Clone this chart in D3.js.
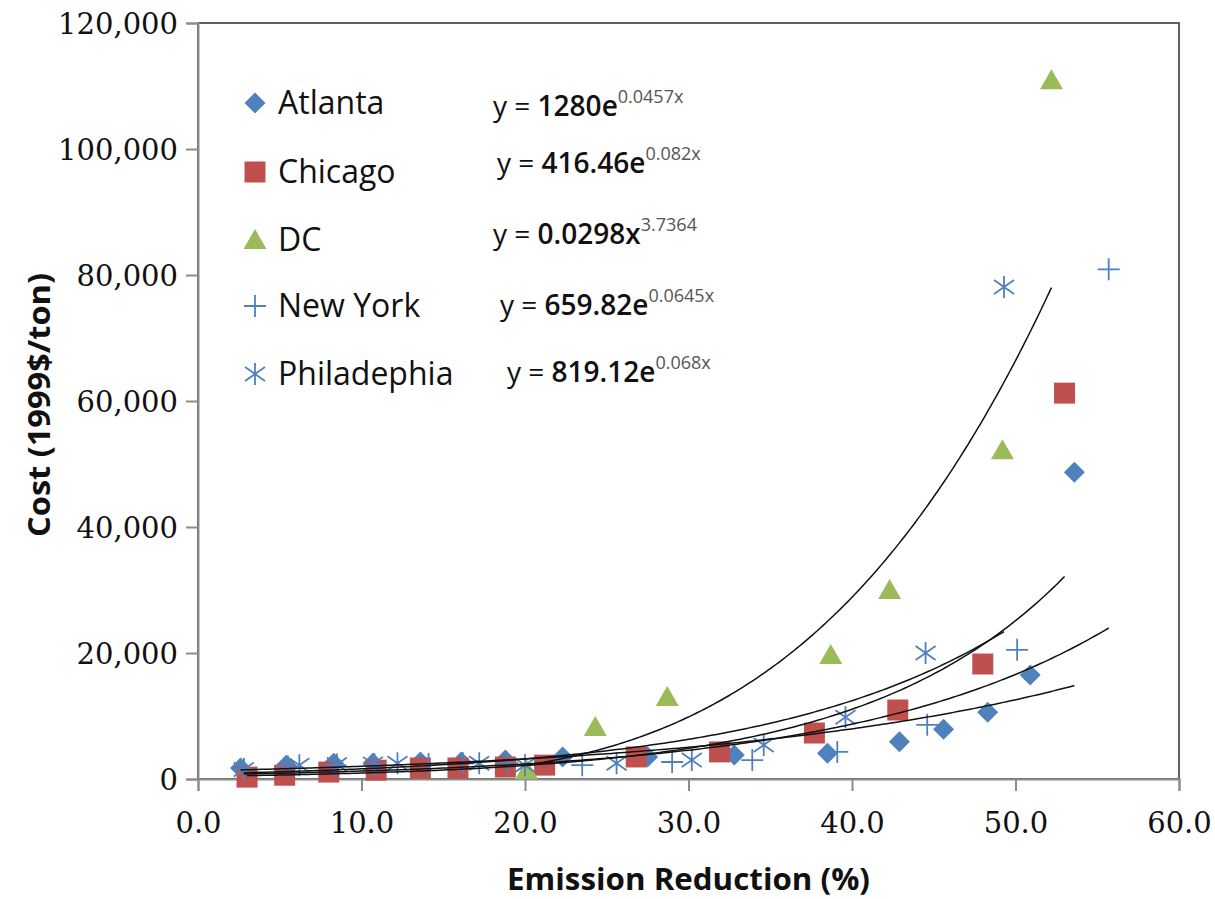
<!DOCTYPE html>
<html>
<head>
<meta charset="utf-8">
<script src="https://cdn.jsdelivr.net/npm/d3@7"></script>
<style>
  body { margin: 0; background: #fff; }
  svg { display: block; }
</style>
</head>
<body>
<div id="chart"></div>
<script>
// Data
const cities = ['Atlanta', 'Chicago', 'DC', 'New York', 'Philadephia'];

const atlantaX = [2.6, 5.4, 8.3, 10.7, 13.6, 16.1, 18.8, 22.3, 27.5, 32.8, 38.5, 42.9, 45.6, 48.3, 50.9, 53.6];
const atlantaY = [1750, 2200, 2500, 2500, 2700, 2700, 3000, 3500, 3500, 3800, 4100, 5900, 7900, 10600, 16500, 48700];

const chicagoX = [3.0, 5.3, 8.0, 10.9, 13.6, 15.9, 18.8, 21.2, 26.8, 31.9, 37.7, 42.8, 48.0, 53.0];
const chicagoY = [300, 600, 1100, 1400, 1750, 1750, 1900, 2200, 3500, 4300, 7300, 10950, 18250, 61250];

const dcX = [20.1, 24.3, 28.7, 38.7, 42.3, 49.2, 52.2];
const dcY = [1400, 8250, 13000, 19700, 30000, 52200, 110900];

const newYorkX = [2.8, 5.5, 8.4, 10.8, 14.1, 16.2, 18.9, 23.5, 29.0, 33.9, 39.1, 44.6, 50.1, 55.7];
const newYorkY = [1600, 2000, 2200, 2300, 2400, 2500, 2600, 2200, 2700, 3000, 4300, 8600, 20500, 80900];

const philX = [2.8, 6.2, 8.5, 10.7, 12.2, 17.2, 20.0, 25.6, 30.2, 34.6, 39.6, 44.5, 49.3];
const philY = [1500, 2200, 2300, 2400, 2500, 2500, 2200, 2500, 3000, 5400, 9800, 20000, 78100];

// Trendline equations shown on the chart
const fitType = ['exp', 'exp', 'power', 'exp', 'exp'];
const fitA = [1280, 416.46, 0.0298, 659.82, 819.12];
const fitB = [0.0457, 0.082, 3.7364, 0.0645, 0.068];
const fitCoef = ['1280', '416.46', '0.0298', '659.82', '819.12'];
const fitExp = ['0.0457x', '0.082x', '3.7364', '0.0645x', '0.068x'];

const xTicks = [0, 10, 20, 30, 40, 50, 60];
const yTicks = [0, 20000, 40000, 60000, 80000, 100000, 120000];

const series = [
  { name: cities[0], xs: atlantaX, ys: atlantaY, shape: 'diamond', color: '#4F81BD' },
  { name: cities[1], xs: chicagoX, ys: chicagoY, shape: 'square', color: '#C0504D' },
  { name: cities[2], xs: dcX, ys: dcY, shape: 'triangle', color: '#9BBB59' },
  { name: cities[3], xs: newYorkX, ys: newYorkY, shape: 'plus', color: '#4F81BD' },
  { name: cities[4], xs: philX, ys: philY, shape: 'star', color: '#4F81BD' }
];

const width = 1215;
const height = 899;
const margin = { t: 23, r: 36, b: 120, l: 198 };
const W = width - margin.l - margin.r;
const H = height - margin.t - margin.b;

const scaleX = d3.scaleLinear().domain([0, 60]).range([0, W]);
const scaleY = d3.scaleLinear().domain([0, 120000]).range([H, 0]);

// Marker paths, centred on 0,0
function markerPath(shape) {
  const p = d3.path();
  if (shape === 'diamond') {
    p.moveTo(0, -10.5); p.lineTo(10.5, 0); p.lineTo(0, 10.5); p.lineTo(-10.5, 0); p.closePath();
  } else if (shape === 'square') {
    p.rect(-10.5, -10.5, 21, 21);
  } else if (shape === 'triangle') {
    p.moveTo(0, -11); p.lineTo(11.5, 9); p.lineTo(-11.5, 9); p.closePath();
  } else if (shape === 'plus') {
    p.moveTo(-11, 0); p.lineTo(11, 0); p.moveTo(0, -11); p.lineTo(0, 11);
  } else {
    p.moveTo(0, -11); p.lineTo(0, 11);
    p.moveTo(-10, -7); p.lineTo(10, 7);
    p.moveTo(-10, 7); p.lineTo(10, -7);
  }
  return p.toString();
}

function drawMarker(sel, s) {
  const filled = s.shape === 'diamond' || s.shape === 'square' || s.shape === 'triangle';
  sel.attr('d', markerPath(s.shape))
    .attr('fill', filled ? s.color : 'none')
    .attr('stroke', filled ? 'none' : s.color)
    .attr('stroke-width', filled ? 0 : 1.8);
}

function fit(i, x) {
  return fitType[i] === 'exp' ? fitA[i] * Math.exp(fitB[i] * x) : fitA[i] * Math.pow(x, fitB[i]);
}

const svg = d3.select('#chart')
  .append('svg')
  .attr('width', width)
  .attr('height', height);

const g = svg.append('g').attr('transform', `translate(${margin.l}, ${margin.t})`);

// Plot frame
g.append('rect')
  .attr('width', W)
  .attr('height', H)
  .attr('fill', 'none')
  .attr('stroke', '#3a3a3a')
  .attr('stroke-width', 1.6);

// Axes
const xAxis = d3.axisBottom(scaleX)
  .tickValues(xTicks)
  .tickSize(12)
  .tickPadding(21)
  .tickFormat(d3.format('.1f'));

const yAxis = d3.axisLeft(scaleY)
  .tickValues(yTicks)
  .tickSize(12)
  .tickPadding(8)
  .tickFormat(d3.format(','));

const gx = g.append('g').attr('transform', `translate(0, ${H})`).call(xAxis);
const gy = g.append('g').call(yAxis);

[gx, gy].forEach(ax => {
  ax.select('.domain').attr('stroke', '#8c8c8c').attr('stroke-width', 2);
  ax.selectAll('.tick line').attr('stroke', '#8c8c8c').attr('stroke-width', 2);
  ax.selectAll('.tick text')
    .attr('fill', '#111')
    .style('font-family', '"DejaVu Serif", serif')
    .style('font-size', '29px');
});
gy.selectAll('.tick text').attr('dy', '0.36em');

// Markers
series.forEach(s => {
  g.append('g')
    .selectAll('path')
    .data(s.xs.map((x, i) => [x, s.ys[i]]))
    .join('path')
    .attr('transform', d => `translate(${scaleX(d[0])}, ${scaleY(d[1])})`)
    .call(drawMarker, s);
});

// Trendlines over each series' own x range
const line = d3.line()
  .x(d => scaleX(d[0]))
  .y(d => scaleY(d[1]));

series.forEach((s, i) => {
  const [x0, x1] = d3.extent(s.xs);
  const pts = d3.range(0, 201).map(k => {
    const x = x0 + (x1 - x0) * k / 200;
    return [x, fit(i, x)];
  });
  g.append('path')
    .datum(pts)
    .attr('fill', 'none')
    .attr('stroke', '#111')
    .attr('stroke-width', 1.5)
    .attr('d', line);
});

// Legend
const legendMarkerX = 255;
const legendTextX = 278;
const legendRowY = [103, 172, 240, 306, 374];
const legend = svg.append('g');

series.forEach((s, i) => {
  legend.append('path')
    .attr('transform', `translate(${legendMarkerX}, ${legendRowY[i]})`)
    .call(drawMarker, s);
  legend.append('text')
    .attr('x', legendTextX)
    .attr('y', legendRowY[i] + 11)
    .attr('fill', '#111')
    .style('font-family', '"Open Sans", sans-serif')
    .style('font-size', '32px')
    .text(s.name);
});

// Trendline equations, placed as in the source
const eqX = [493, 497, 493, 500, 507];
const eqBase = [116, 173, 244, 315, 382];

series.forEach((s, i) => {
  const t = svg.append('text')
    .attr('x', eqX[i])
    .attr('y', eqBase[i])
    .attr('fill', '#111')
    .style('font-family', '"Open Sans", sans-serif')
    .style('font-size', '28px');
  t.append('tspan').text('y = ');
  t.append('tspan').style('font-weight', 600).text(fitCoef[i] + (fitType[i] === 'exp' ? 'e' : 'x'));
  t.append('tspan')
    .attr('dy', -13)
    .attr('fill', '#555')
    .style('font-size', '18px')
    .text(fitExp[i]);
});

// Axis titles
svg.append('text')
  .attr('x', margin.l + W / 2)
  .attr('y', 890)
  .attr('text-anchor', 'middle')
  .attr('fill', '#111')
  .attr('textLength', 363)
  .attr('lengthAdjust', 'spacingAndGlyphs')
  .style('font-family', '"Open Sans", sans-serif')
  .style('font-weight', 700)
  .style('font-size', '31px')
  .text('Emission Reduction (%)');

svg.append('text')
  .attr('transform', `translate(50, ${margin.t + H / 2 + 4}) rotate(-90)`)
  .attr('text-anchor', 'middle')
  .attr('fill', '#111')
  .attr('textLength', 264)
  .attr('lengthAdjust', 'spacingAndGlyphs')
  .style('font-family', '"Open Sans", sans-serif')
  .style('font-weight', 700)
  .style('font-size', '30px')
  .text('Cost (1999$/ton)');
</script>
</body>
</html>
